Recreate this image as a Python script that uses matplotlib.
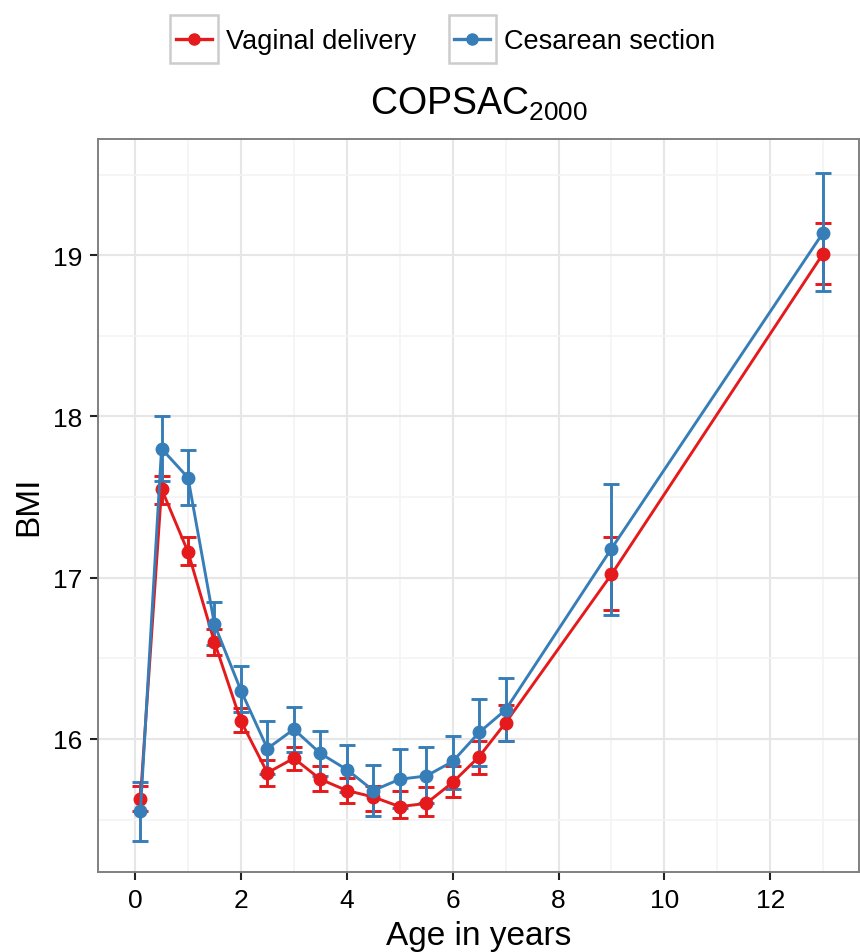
import matplotlib
matplotlib.use("Agg")
import matplotlib.pyplot as plt
from matplotlib.lines import Line2D
from matplotlib.patches import Rectangle
from matplotlib.legend_handler import HandlerBase
from matplotlib.ticker import MultipleLocator

plt.rcParams['font.family'] = ['Liberation Sans', 'DejaVu Sans']
plt.rcParams['mathtext.fontset'] = 'custom'
plt.rcParams['mathtext.rm'] = 'Liberation Sans'
plt.rcParams['mathtext.it'] = 'Liberation Sans'

age = [0.1, 0.5, 1, 1.5, 2, 2.5, 3, 3.5, 4, 4.5, 5, 5.5, 6, 6.5, 7, 9, 13]

vag_bmi = [15.63, 17.55, 17.16, 16.60, 16.11, 15.79, 15.88, 15.75, 15.68, 15.64, 15.58, 15.60, 15.73, 15.89, 16.10, 17.02, 19.01]
vag_lo = [15.55, 17.46, 17.08, 16.52, 16.04, 15.71, 15.81, 15.68, 15.60, 15.55, 15.51, 15.52, 15.64, 15.78, 15.99, 16.80, 18.82]
vag_hi = [15.71, 17.63, 17.25, 16.68, 16.19, 15.87, 15.95, 15.83, 15.76, 15.71, 15.68, 15.70, 15.83, 15.99, 16.21, 17.25, 19.20]

ces_bmi = [15.55, 17.80, 17.62, 16.71, 16.30, 15.94, 16.06, 15.91, 15.81, 15.68, 15.75, 15.77, 15.86, 16.04, 16.18, 17.18, 19.14]
ces_lo = [15.37, 17.60, 17.45, 16.58, 16.17, 15.78, 15.92, 15.77, 15.67, 15.52, 15.57, 15.60, 15.69, 15.83, 15.99, 16.77, 18.78]
ces_hi = [15.73, 18.00, 17.79, 16.85, 16.45, 16.11, 16.20, 16.05, 15.96, 15.84, 15.94, 15.95, 16.02, 16.25, 16.38, 17.58, 19.51]

series_names = ["Vaginal delivery", "Cesarean section"]
colors = ["#E41A1C", "#377EB8"]


class BoxedKeyHandler(HandlerBase):
    def create_artists(self, legend, orig_handle, xdescent, ydescent, width, height, fontsize, trans):
        ymid = -ydescent + height / 2
        side = width
        box = Rectangle((-xdescent, ymid - side / 2), side, side, facecolor='white',
                        edgecolor='#cccccc', lw=1.8, transform=trans)
        pad = width * 0.12
        ln = Line2D([-xdescent + pad, -xdescent + width - pad], [ymid, ymid],
                    color=orig_handle.get_color(), lw=2.4, transform=trans)
        mk = Line2D([-xdescent + width / 2], [ymid], color=orig_handle.get_color(),
                    marker='o', ms=8, ls='none', transform=trans)
        return [box, ln, mk]


fig = plt.figure(figsize=(8.6, 9.53), dpi=100)
ax = fig.add_axes([0.114, 0.084, 0.885, 0.769])

for bmi, lo, hi, col in [(vag_bmi, vag_lo, vag_hi, colors[0]), (ces_bmi, ces_lo, ces_hi, colors[1])]:
    yerr = [[b - l for b, l in zip(bmi, lo)], [h - b for b, h in zip(bmi, hi)]]
    ax.errorbar(age, bmi, yerr=yerr, color=col, lw=2.1, marker='o', ms=9,
                capsize=6, capthick=2.1, elinewidth=2.1, zorder=3)

ax.set_xlim(-0.7, 13.68)
ax.set_ylim(15.175, 19.72)
ax.xaxis.set_major_locator(MultipleLocator(2))
ax.xaxis.set_minor_locator(MultipleLocator(1))
ax.yaxis.set_major_locator(MultipleLocator(1))
ax.yaxis.set_minor_locator(MultipleLocator(0.5))
ax.grid(which='major', color='#e6e6e6', lw=1.5, zorder=0)
ax.grid(which='minor', color='#f4f4f4', lw=1.2, zorder=0)
ax.set_axisbelow(True)
for s in ax.spines.values():
    s.set_color('#808080')
    s.set_linewidth(1.4)
ax.tick_params(which='major', length=5.8, width=1.5, color='#222222', labelsize=19, labelcolor='black', pad=5.5)
ax.tick_params(which='minor', length=0)

ax.set_xlabel("Age in years", fontsize=24, labelpad=6)
ax.set_ylabel("BMI", fontsize=24, labelpad=6)
ax.set_title("COPSAC$_{2000}$", fontsize=27, pad=18)

proxies = [Line2D([], [], color=c) for c in colors]
fig.legend(proxies, series_names, loc='upper center', bbox_to_anchor=(0.515, 0.997), ncol=2,
           frameon=False, fontsize=19.5, handler_map={Line2D: BoxedKeyHandler()},
           handlelength=1.75, handleheight=1.7, handletextpad=0.3, columnspacing=1.2,
           borderaxespad=0.3)

fig.savefig("out.png", dpi=100)
